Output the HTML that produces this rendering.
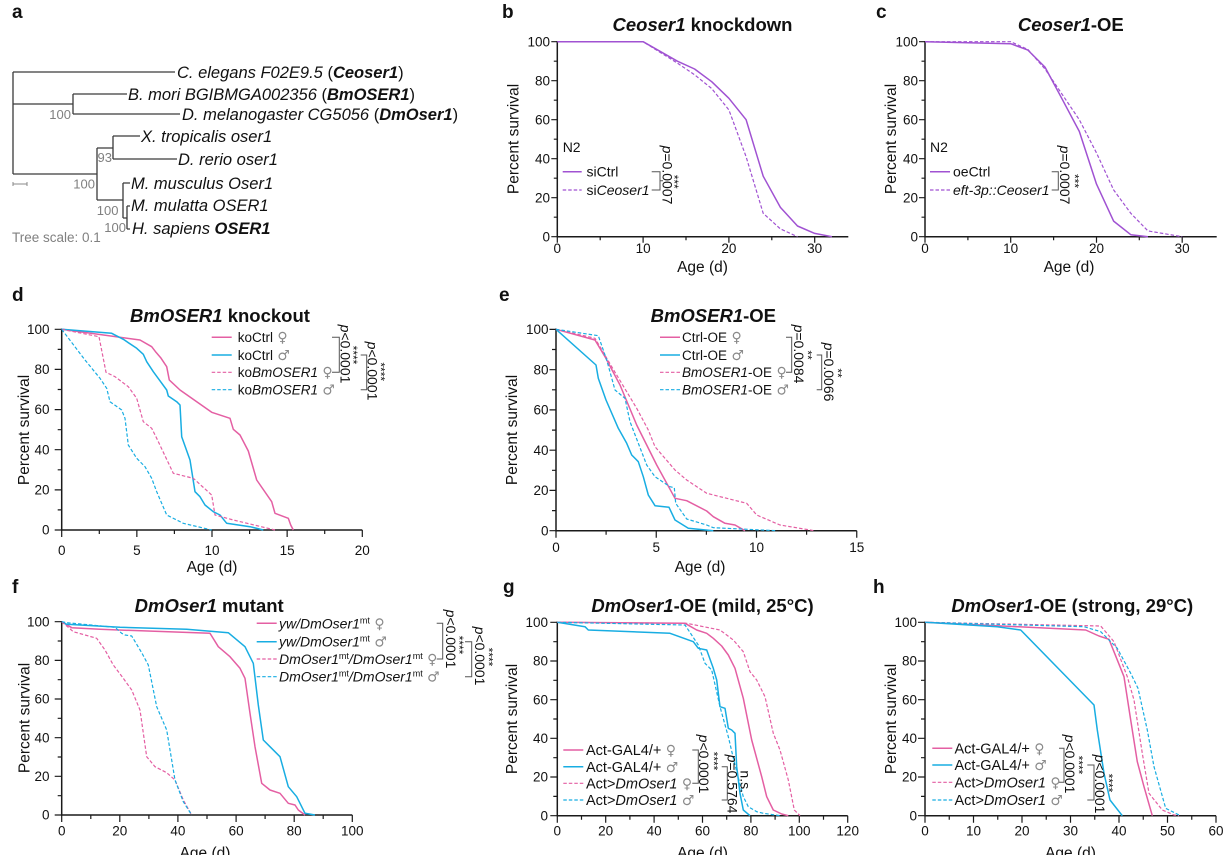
<!DOCTYPE html>
<html>
<head>
<meta charset="utf-8">
<style>
html,body{margin:0;padding:0;background:#fff;}
svg{display:block;}
text{font-family:"Liberation Sans",Arial,sans-serif;fill:#111;}
.ax{fill:none;stroke:#1a1a1a;stroke-width:1.5;}
.tk{fill:none;stroke:#1a1a1a;stroke-width:1.2;}
.tl{font-size:13.5px;}
.yl{text-anchor:end;}
.xl{text-anchor:middle;}
.at{font-size:15.5px;text-anchor:middle;}
.ti{font-size:18.5px;font-weight:bold;text-anchor:middle;}
.pl{font-size:19px;font-weight:bold;}
.lg{font-size:13.5px;}
.g{fill:#8a8a8a;font-size:14px;font-family:"DejaVu Sans",sans-serif;font-style:normal;}
.pk{fill:none;stroke:#e45fa3;stroke-width:1.5;stroke-linejoin:round;}
.bl{fill:none;stroke:#18ade2;stroke-width:1.5;stroke-linejoin:round;}
.pu{fill:none;stroke:#a052d2;stroke-width:1.5;stroke-linejoin:round;}
.ds{stroke-dasharray:3.5,2;stroke-width:1.2;}
.br{fill:none;stroke:#555;stroke-width:1;}
.pv{font-size:14px;text-anchor:middle;}
.st{font-size:12px;text-anchor:middle;}
.tr{fill:none;stroke:#3a3a3a;stroke-width:1.3;}
.bs{font-size:13px;fill:#808080;}
.sp{font-size:16.5px;font-style:italic;}
.gr{font-size:13.5px;fill:#808080;}
</style>
</head>
<body>
<svg width="1224" height="855" viewBox="0 0 1224 855" xmlns="http://www.w3.org/2000/svg">
<rect width="1224" height="855" fill="#fff"/>

<!-- ===== Panel a ===== -->
<text class="pl" x="12" y="18">a</text>
<path class="tr" d="M13 72V174M13 72H175M13 104H73M73 94V114M73 94H127M73 114H180M13 174H97M97 148V200M97 148H113M113 136V159M113 136H140M113 159H177M97 200H123M123 183V218M123 183H130M123 218H127M127 206V229M127 206H130M127 229H130"/>
<path d="M13 184H27M13 182V186M27 182V186" fill="none" stroke="#888" stroke-width="1"/>
<text class="sp" x="177" y="78">C. elegans F02E9.5 <tspan font-style="normal">(</tspan><tspan font-weight="bold">Ceoser1</tspan><tspan font-style="normal">)</tspan></text>
<text class="sp" x="128" y="100">B. mori BGIBMGA002356 <tspan font-style="normal">(</tspan><tspan font-weight="bold">BmOSER1</tspan><tspan font-style="normal">)</tspan></text>
<text class="sp" x="182" y="120">D. melanogaster CG5056 <tspan font-style="normal">(</tspan><tspan font-weight="bold">DmOser1</tspan><tspan font-style="normal">)</tspan></text>
<text class="sp" x="141" y="142">X. tropicalis oser1</text>
<text class="sp" x="178" y="165">D. rerio oser1</text>
<text class="sp" x="131" y="189">M. musculus Oser1</text>
<text class="sp" x="131" y="211">M. mulatta OSER1</text>
<text class="sp" x="132" y="234">H. sapiens <tspan font-weight="bold">OSER1</tspan></text>
<text class="bs" x="71" y="119" text-anchor="end">100</text>
<text class="bs" x="97.5" y="162">93</text>
<text class="bs" x="95" y="188.5" text-anchor="end">100</text>
<text class="bs" x="118.5" y="215" text-anchor="end">100</text>
<text class="bs" x="126" y="232" text-anchor="end">100</text>
<text class="gr" x="12" y="242">Tree scale: 0.1</text>

<!-- ===== Panel b ===== -->
<text class="pl" x="502" y="18">b</text>
<text class="ti" x="702.5" y="31"><tspan font-style="italic">Ceoser1</tspan> knockdown</text>
<path class="tk" d="M551.3 236.7H557.3M553.8 217.2H557.3M551.3 197.7H557.3M553.8 178.2H557.3M551.3 158.7H557.3M553.8 139.2H557.3M551.3 119.7H557.3M553.8 100.2H557.3M551.3 80.7H557.3M553.8 61.2H557.3M551.3 41.7H557.3M557.3 236.7V242.7M643.1 236.7V242.7M728.9 236.7V242.7M814.7 236.7V242.7M600.2 236.7V240.2M686 236.7V240.2M771.8 236.7V240.2"/>
<path class="ax" d="M557.3 41V236.7H848.3"/>
<g class="tl yl"><text x="550" y="241.3">0</text><text x="550" y="202.3">20</text><text x="550" y="163.3">40</text><text x="550" y="124.3">60</text><text x="550" y="85.3">80</text><text x="550" y="46.3">100</text></g>
<g class="tl xl"><text x="557.3" y="253">0</text><text x="643.1" y="253">10</text><text x="728.9" y="253">20</text><text x="814.7" y="253">30</text></g>
<text class="at" x="702.5" y="272">Age (d)</text>
<text class="at" transform="translate(518.5,139) rotate(-90)">Percent survival</text>
<polyline class="pu" points="557.3,41.7 643.1,41.7 677.4,61.2 694.6,69 711.7,81.7 728.9,98.3 746.1,119.7 763.2,176.2 780.4,207.4 797.5,226 814.7,233.4 831.9,236.7"/>
<polyline class="pu ds" points="557.3,41.7 643.1,41.7 677.4,63.1 694.6,74.8 711.7,88.5 728.9,109.9 746.1,156.7 763.2,213.3 780.4,228.9 797.5,236.7"/>
<text x="562.7" y="152" font-size="14">N2</text>
<line class="pu" x1="562.7" y1="171.7" x2="581.7" y2="171.7"/>
<line class="pu ds" x1="562.7" y1="190" x2="581.7" y2="190"/>
<text x="586.5" y="176.5" font-size="14">siCtrl</text>
<text x="586.5" y="195" font-size="14">si<tspan font-style="italic">Ceoser1</tspan></text>
<path class="br" d="M651.7 171.7H660V190H651.7M660 180.8H663"/>
<text class="pv" transform="translate(662.5,175) rotate(90)"><tspan font-style="italic">p</tspan>=0.0007</text>
<text class="st" transform="translate(670,181.7) rotate(90)">***</text>

<!-- ===== Panel c ===== -->
<text class="pl" x="876" y="18">c</text>
<text class="ti" x="1070.8" y="31"><tspan font-style="italic">Ceoser1</tspan>-OE</text>
<path class="tk" d="M919 236.7H925M921.5 217.2H925M919 197.7H925M921.5 178.2H925M919 158.7H925M921.5 139.2H925M919 119.7H925M921.5 100.2H925M919 80.7H925M921.5 61.2H925M919 41.7H925M925 236.7V242.7M1010.7 236.7V242.7M1096.5 236.7V242.7M1182.2 236.7V242.7M967.9 236.7V240.2M1053.6 236.7V240.2M1139.3 236.7V240.2"/>
<path class="ax" d="M925 41V236.7H1216.7"/>
<g class="tl yl"><text x="918" y="241.3">0</text><text x="918" y="202.3">20</text><text x="918" y="163.3">40</text><text x="918" y="124.3">60</text><text x="918" y="85.3">80</text><text x="918" y="46.3">100</text></g>
<g class="tl xl"><text x="925" y="253">0</text><text x="1010.7" y="253">10</text><text x="1096.5" y="253">20</text><text x="1182.2" y="253">30</text></g>
<text class="at" x="1069" y="272">Age (d)</text>
<text class="at" transform="translate(896,139) rotate(-90)">Percent survival</text>
<polyline class="pu" points="925,41.7 1010.7,43.7 1027.9,50.1 1045,67.1 1062.2,99.2 1079.3,131.4 1096.5,184.1 1113.6,221.1 1130.8,234.7 1147.9,236.7"/>
<polyline class="pu ds" points="925,41.7 1010.7,41.7 1027.9,49.5 1045,69 1062.2,94.4 1079.3,119.7 1096.5,152.9 1113.6,189.9 1130.8,213.3 1147.9,230.9 1165,233.8 1182.2,236.7"/>
<text x="930" y="152" font-size="14">N2</text>
<line class="pu" x1="930" y1="171.7" x2="950" y2="171.7"/>
<line class="pu ds" x1="930" y1="190" x2="950" y2="190"/>
<text x="953" y="176.5" font-size="14">oeCtrl</text>
<text x="953" y="195" font-size="14" font-style="italic">eft-3p::Ceoser1</text>
<path class="br" d="M1051.7 171.7H1058.3V190H1051.7"/>
<text class="pv" transform="translate(1060,175) rotate(90)"><tspan font-style="italic">p</tspan>=0.0007</text>
<text class="st" transform="translate(1070.5,181) rotate(90)">***</text>

<!-- ===== Panel d ===== -->
<text class="pl" x="12" y="301">d</text>
<text class="ti" x="220" y="322"><tspan font-style="italic">BmOSER1</tspan> knockout</text>
<path class="tk" d="M54.7 530H61.7M57.7 509.9H61.7M54.7 489.9H61.7M57.7 469.8H61.7M54.7 449.7H61.7M57.7 429.7H61.7M54.7 409.6H61.7M57.7 389.5H61.7M54.7 369.4H61.7M57.7 349.4H61.7M54.7 329.3H61.7M61.7 530V537M136.85 530V537M212 530V537M287.15 530V537M362.3 530V537M99.3 530V534M174.4 530V534M249.6 530V534M324.7 530V534"/>
<path class="ax" d="M61.7 328.5V530H362.3"/>
<g class="tl yl"><text x="49.5" y="534.6">0</text><text x="49.5" y="494.5">20</text><text x="49.5" y="454.3">40</text><text x="49.5" y="414.2">60</text><text x="49.5" y="374">80</text><text x="49.5" y="333.9">100</text></g>
<g class="tl xl"><text x="61.7" y="555">0</text><text x="136.85" y="555">5</text><text x="212" y="555">10</text><text x="287.15" y="555">15</text><text x="362.3" y="555">20</text></g>
<text class="at" x="212" y="572">Age (d)</text>
<text class="at" transform="translate(29,430) rotate(-90)">Percent survival</text>
<polyline class="pk" points="61.7,329.3 140,340 151.7,346.7 156,352.3 160.7,357.7 166.7,366.7 169.3,380 180,390 211.7,412.3 230,418.3 233.3,429.3 240,435 248.3,451 256.7,480 271.7,501.7 275,513.3 288.3,518.3 290.7,525 293.3,530"/>
<polyline class="bl" points="61.7,329.3 111.7,333.3 123.3,339.3 136.7,348.3 143.3,354.3 146.7,361.7 153.3,371.7 166.7,390 168.3,396 176.7,401.7 180,405 181.7,436.7 190,460 195,491.7 200,496.7 205,505 213.3,511.7 220,515 226.7,523.3 250,526.7 263.3,530"/>
<polyline class="pk ds" points="61.7,329.3 99,336.7 106,372.3 115,376.7 128.3,386.7 136.7,398.3 143.3,421.7 151.7,428.3 156.7,438.3 173.3,473.3 193.3,478.3 211.7,495 215,515 233.3,520 275,530"/>
<polyline class="bl ds" points="61.7,329.3 85,360 100,378.3 106.7,388.3 110,401.7 121.7,410 125,418.3 128.3,445 136.7,458.3 145,466.7 151.7,478.3 156.7,491.7 166.7,515 183.3,523.3 211.7,530"/>
<line class="pk" x1="211.7" y1="337.3" x2="231.7" y2="337.3"/>
<line class="bl" x1="211.7" y1="355" x2="231.7" y2="355"/>
<line class="pk ds" x1="211.7" y1="372.3" x2="231.7" y2="372.3"/>
<line class="bl ds" x1="211.7" y1="389.7" x2="231.7" y2="389.7"/>
<text class="lg" x="237.7" y="342">koCtrl<tspan class="g"> ♀</tspan></text>
<text class="lg" x="237.7" y="359.8">koCtrl<tspan class="g"> ♂</tspan></text>
<text class="lg" x="237.7" y="377.1">ko<tspan font-style="italic">BmOSER1</tspan><tspan class="g"> ♀</tspan></text>
<text class="lg" x="237.7" y="394.5">ko<tspan font-style="italic">BmOSER1</tspan><tspan class="g"> ♂</tspan></text>
<path class="br" d="M332 337.3H339.3V372.3H332M360.7 355H366.7V389.7H360.7"/>
<text class="pv" transform="translate(340.5,354) rotate(90)"><tspan font-style="italic">p</tspan>&lt;0.0001</text>
<text class="st" transform="translate(349,355) rotate(90)">****</text>
<text class="pv" transform="translate(367.5,371) rotate(90)"><tspan font-style="italic">p</tspan>&lt;0.0001</text>
<text class="st" transform="translate(376.3,371.7) rotate(90)">****</text>

<!-- ===== Panel e ===== -->
<text class="pl" x="499" y="301">e</text>
<text class="ti" x="713.3" y="322"><tspan font-style="italic">BmOSER1</tspan>-OE</text>
<path class="tk" d="M549.5 530.7H556M552 510.6H556M549.5 490.4H556M552 470.3H556M549.5 450.2H556M552 430.1H556M549.5 409.9H556M552 389.8H556M549.5 369.7H556M552 349.5H556M549.5 329.4H556M556 530.7V537.7M656.25 530.7V537.7M756.5 530.7V537.7M856.75 530.7V537.7M606.1 530.7V534.7M706.4 530.7V534.7M806.6 530.7V534.7"/>
<path class="ax" d="M556 328.5V530.7H856.75"/>
<g class="tl yl"><text x="548.5" y="535.3">0</text><text x="548.5" y="495">20</text><text x="548.5" y="454.8">40</text><text x="548.5" y="414.5">60</text><text x="548.5" y="374.3">80</text><text x="548.5" y="334">100</text></g>
<g class="tl xl"><text x="556" y="552">0</text><text x="656.25" y="552">5</text><text x="756.5" y="552">10</text><text x="856.75" y="552">15</text></g>
<text class="at" x="700" y="572">Age (d)</text>
<text class="at" transform="translate(517,430) rotate(-90)">Percent survival</text>
<polyline class="pk" points="556,329.3 595,340 605,356.7 620,385 636.7,425 656.7,465 675,498.3 686.7,500.7 706.7,511 713.3,516.7 725,523.3 735,525 745,530.7"/>
<polyline class="bl" points="556,329.3 596,365 598.3,378.3 606,400 618.3,428.3 626.7,443.3 631.7,455 638.3,461.7 643.3,476.7 648.3,495 655,505.7 669,507.3 675,520 688.3,528.3 713.3,530.7"/>
<polyline class="pk ds" points="556,329.3 595,338.3 611.7,366.7 626.7,391.7 636.7,408.3 648.3,430 655,446.7 675,470 686.7,480 706.7,493.3 746.7,503.3 756.7,515 780,525 814.3,530.7"/>
<polyline class="bl ds" points="556,329.3 598.3,335.7 606.7,360 615,390 625,398.3 630,421.7 646.7,465 655,476.7 670,486.7 674.3,487.7 675.7,503.3 686.7,519 706.7,525 713.3,527.7 776.7,530.7"/>
<line class="pk" x1="660" y1="337.3" x2="680" y2="337.3"/>
<line class="bl" x1="660" y1="355" x2="680" y2="355"/>
<line class="pk ds" x1="660" y1="372.3" x2="680" y2="372.3"/>
<line class="bl ds" x1="660" y1="389.7" x2="680" y2="389.7"/>
<text class="lg" x="682" y="342">Ctrl-OE<tspan class="g"> ♀</tspan></text>
<text class="lg" x="682" y="359.8">Ctrl-OE<tspan class="g"> ♂</tspan></text>
<text class="lg" x="682" y="377.1"><tspan font-style="italic">BmOSER1</tspan>-OE<tspan class="g"> ♀</tspan></text>
<text class="lg" x="682" y="394.5"><tspan font-style="italic">BmOSER1</tspan>-OE<tspan class="g"> ♂</tspan></text>
<path class="br" d="M786 337.3H791.7V372.3H786M816.7 355H821.7V389.7H816.7"/>
<text class="pv" transform="translate(794,354) rotate(90)"><tspan font-style="italic">p</tspan>=0.0084</text>
<text class="st" transform="translate(803.5,355) rotate(90)">**</text>
<text class="pv" transform="translate(824,372) rotate(90)"><tspan font-style="italic">p</tspan>=0.0066</text>
<text class="st" transform="translate(833.5,373) rotate(90)">**</text>

<!-- ===== Panel f ===== -->
<text class="pl" x="12" y="593">f</text>
<text class="ti" x="209.2" y="612"><tspan font-style="italic">DmOser1</tspan> mutant</text>
<path class="tk" d="M54.7 815H61.7M57.7 795.7H61.7M54.7 776.3H61.7M57.7 757H61.7M54.7 737.7H61.7M57.7 718.3H61.7M54.7 699H61.7M57.7 679.7H61.7M54.7 660.4H61.7M57.7 641H61.7M54.7 621.7H61.7M61.7 815V822M119.8 815V822M177.9 815V822M236.1 815V822M294.2 815V822M352.3 815V822M90.8 815V819M148.9 815V819M207 815V819M265.1 815V819M323.2 815V819"/>
<path class="ax" d="M61.7 621V815H352.3"/>
<g class="tl yl"><text x="49.5" y="819.6">0</text><text x="49.5" y="780.9">20</text><text x="49.5" y="742.3">40</text><text x="49.5" y="703.6">60</text><text x="49.5" y="665">80</text><text x="49.5" y="626.3">100</text></g>
<g class="tl xl"><text x="61.7" y="835.5">0</text><text x="119.8" y="835.5">20</text><text x="177.9" y="835.5">40</text><text x="236.1" y="835.5">60</text><text x="294.2" y="835.5">80</text><text x="352.3" y="835.5">100</text></g>
<text class="at" x="205" y="858">Age (d)</text>
<text class="at" transform="translate(29.5,718) rotate(-90)">Percent survival</text>
<polyline class="pk" points="61.7,621.7 71.7,627.7 100,629.3 210,633.3 218.3,646.7 230,656.7 240,668.3 245,678.3 250,713.3 255,746.7 261.7,783.3 270,790 280,793.3 288.3,803.3 295,805 298.3,810 305,815"/>
<polyline class="bl" points="61.7,621.7 66.7,624.3 120,627.3 186.7,629.3 228.3,632.7 245,646.7 253.3,663.3 258.3,705 263.3,740 270,746.7 280,756.7 288.3,786.7 296.7,796.7 305,813.3 315,815"/>
<polyline class="pk ds" points="61.7,621.7 73.3,631.7 96.7,638.3 105,650 113.3,665 123.3,678.3 131.7,690 140,710 146.7,756.7 155,766.7 166.7,772.7 175,780 183.3,800 191.7,815"/>
<polyline class="bl ds" points="61.7,621.7 66.7,622.7 115,627.3 121.7,633.3 125,635 131.7,636 141.7,652.7 148.3,665 156.7,706.7 166.7,730 175,780 183.3,801.7 191.7,815"/>
<line class="pk" x1="256.7" y1="623.3" x2="276.7" y2="623.3"/>
<line class="bl" x1="256.7" y1="641.7" x2="276.7" y2="641.7"/>
<line class="pk ds" x1="256.7" y1="659" x2="276.7" y2="659"/>
<line class="bl ds" x1="256.7" y1="676.7" x2="276.7" y2="676.7"/>
<text x="279" y="628.3" font-size="14" font-style="italic">yw/DmOser1<tspan font-size="9" dy="-5" font-style="normal">mt</tspan><tspan class="g" dy="5"> ♀</tspan></text>
<text x="279" y="646.7" font-size="14" font-style="italic">yw/DmOser1<tspan font-size="9" dy="-5" font-style="normal">mt</tspan><tspan class="g" dy="5"> ♂</tspan></text>
<text x="279" y="664" font-size="14" font-style="italic">DmOser1<tspan font-size="9" dy="-5" font-style="normal">mt</tspan><tspan dy="5">/DmOser1</tspan><tspan font-size="9" dy="-5" font-style="normal">mt</tspan><tspan class="g" dy="5"> ♀</tspan></text>
<text x="279" y="681.7" font-size="14" font-style="italic">DmOser1<tspan font-size="9" dy="-5" font-style="normal">mt</tspan><tspan dy="5">/DmOser1</tspan><tspan font-size="9" dy="-5" font-style="normal">mt</tspan><tspan class="g" dy="5"> ♂</tspan></text>
<path class="br" d="M436.7 623.3H442.7V659H436.7M465 641.7H471.7V676.7H465"/>
<text class="pv" transform="translate(446,639) rotate(90)"><tspan font-style="italic">p</tspan>&lt;0.0001</text>
<text class="st" transform="translate(455,645) rotate(90)">****</text>
<text class="pv" transform="translate(475,656) rotate(90)"><tspan font-style="italic">p</tspan>&lt;0.0001</text>
<text class="st" transform="translate(484.5,657) rotate(90)">****</text>

<!-- ===== Panel g ===== -->
<text class="pl" x="503" y="593">g</text>
<text class="ti" x="702.5" y="612"><tspan font-style="italic">DmOser1</tspan>-OE (mild, 25°C)</text>
<path class="tk" d="M550.3 815.7H557.3M553.3 796.4H557.3M550.3 777H557.3M553.3 757.7H557.3M550.3 738.3H557.3M553.3 719H557.3M550.3 699.7H557.3M553.3 680.3H557.3M550.3 661H557.3M553.3 641.7H557.3M550.3 622.3H557.3M557.3 815.7V822.7M605.7 815.7V822.7M654.1 815.7V822.7M702.5 815.7V822.7M750.9 815.7V822.7M799.3 815.7V822.7M847.7 815.7V822.7M581.5 815.7V819.7M629.9 815.7V819.7M678.3 815.7V819.7M726.7 815.7V819.7M775.1 815.7V819.7M823.5 815.7V819.7"/>
<path class="ax" d="M557.3 621.5V815.7H847.7"/>
<g class="tl yl"><text x="548" y="820.3">0</text><text x="548" y="781.6">20</text><text x="548" y="742.9">40</text><text x="548" y="704.3">60</text><text x="548" y="665.6">80</text><text x="548" y="626.9">100</text></g>
<g class="tl xl"><text x="557.3" y="835.5">0</text><text x="605.7" y="835.5">20</text><text x="654.1" y="835.5">40</text><text x="702.5" y="835.5">60</text><text x="750.9" y="835.5">80</text><text x="799.3" y="835.5">100</text><text x="847.7" y="835.5">120</text></g>
<text class="at" x="702.5" y="858">Age (d)</text>
<text class="at" transform="translate(517,719) rotate(-90)">Percent survival</text>
<polyline class="pk" points="557.3,622.3 685,623.3 696.7,630 706.7,633.3 713.3,638.3 721.7,646 728.3,655 735,668.3 743.3,698.3 751.7,740 761.7,776.7 766.7,796.7 773.3,810 781.7,814 788.3,815.7"/>
<polyline class="bl" points="557.3,622.3 585,626.7 588.3,630 670,633.3 693.3,641.7 698.3,648.3 706.7,650 713.3,668.3 716.7,680 720,706.7 725,708.3 728.3,728.3 731.7,730 735,733.3 736.7,766.7 740,793.3 743.3,810 750,815.7"/>
<polyline class="pk ds" points="557.3,622.3 686.7,623.3 720,630 733.3,640 743.3,651.7 750,671.7 756.7,680 765,696.7 773.3,733.3 780,750 788.3,780 794.3,810 800,815.7"/>
<polyline class="bl ds" points="557.3,622.3 685,625 698.3,645 705,663.3 711.7,670 720,706.7 728.3,736.7 735,765 743.3,796.7 748.3,806.7 756.7,811.7 763.3,813.3 780,815.7"/>
<line class="pk" x1="563.3" y1="750" x2="583.3" y2="750"/>
<line class="bl" x1="563.3" y1="766.7" x2="583.3" y2="766.7"/>
<line class="pk ds" x1="563.3" y1="783.3" x2="583.3" y2="783.3"/>
<line class="bl ds" x1="563.3" y1="800" x2="583.3" y2="800"/>
<text x="586" y="755.2" font-size="14.5">Act-GAL4/+<tspan class="g"> ♀</tspan></text>
<text x="586" y="771.9" font-size="14.5">Act-GAL4/+<tspan class="g"> ♂</tspan></text>
<text x="586" y="788.5" font-size="14.5">Act&gt;<tspan font-style="italic">DmOser1</tspan><tspan class="g"> ♀</tspan></text>
<text x="586" y="805.2" font-size="14.5">Act&gt;<tspan font-style="italic">DmOser1</tspan><tspan class="g"> ♂</tspan></text>
<path class="br" d="M692.3 750H698.3V783.3H692.3M721.7 766.7H727.3V800H721.7"/>
<text class="pv" transform="translate(699,764) rotate(90)"><tspan font-style="italic">p</tspan>&lt;0.0001</text>
<text class="st" transform="translate(709.7,761) rotate(90)">****</text>
<text class="pv" transform="translate(727.5,784) rotate(90)"><tspan font-style="italic">p</tspan>=0.5764</text>
<text class="pv" transform="translate(740.6,781.7) rotate(90)">n.s.</text>

<!-- ===== Panel h ===== -->
<text class="pl" x="873" y="593">h</text>
<text class="ti" x="1072.3" y="612"><tspan font-style="italic">DmOser1</tspan>-OE (strong, 29°C)</text>
<path class="tk" d="M918 815.7H925M921 796.4H925M918 777H925M921 757.7H925M918 738.3H925M921 719H925M918 699.7H925M921 680.3H925M918 661H925M921 641.7H925M918 622.3H925M925 815.7V822.7M973.5 815.7V822.7M1022 815.7V822.7M1070.5 815.7V822.7M1119 815.7V822.7M1167.5 815.7V822.7M1216 815.7V822.7M949.25 815.7V819.7M997.75 815.7V819.7M1046.25 815.7V819.7M1094.75 815.7V819.7M1143.25 815.7V819.7M1191.75 815.7V819.7"/>
<path class="ax" d="M925 621.5V815.7H1216"/>
<g class="tl yl"><text x="917" y="820.3">0</text><text x="917" y="781.6">20</text><text x="917" y="742.9">40</text><text x="917" y="704.3">60</text><text x="917" y="665.6">80</text><text x="917" y="626.9">100</text></g>
<g class="tl xl"><text x="925" y="835.5">0</text><text x="973.5" y="835.5">10</text><text x="1022" y="835.5">20</text><text x="1070.5" y="835.5">30</text><text x="1119" y="835.5">40</text><text x="1167.5" y="835.5">50</text><text x="1216" y="835.5">60</text></g>
<text class="at" x="1070.5" y="858">Age (d)</text>
<text class="at" transform="translate(896,719) rotate(-90)">Percent survival</text>
<polyline class="pk" points="925,622.3 1085.7,630 1099,636 1109,639.3 1124,676.7 1130.7,720 1137.3,761.7 1144,786.7 1152.3,815.7"/>
<polyline class="bl" points="925,622.3 997.3,626.7 1020.7,630 1094,705 1097.3,730 1104,773.3 1110,800 1122.3,815.7"/>
<polyline class="pk ds" points="925,622.3 1100.7,626 1114,641.7 1127.3,676.7 1134,700 1142.3,753.3 1149,793.3 1162.3,810 1174,815 1179,815.7"/>
<polyline class="bl ds" points="925,622.3 1084,626.7 1100.7,631.7 1117.3,648.3 1130.7,673.3 1138,688.3 1147.3,730 1154,766.7 1165.7,808.3 1179,815 1180.7,815.7"/>
<line class="pk" x1="932.3" y1="748.3" x2="952.3" y2="748.3"/>
<line class="bl" x1="932.3" y1="765" x2="952.3" y2="765"/>
<line class="pk ds" x1="932.3" y1="782.3" x2="952.3" y2="782.3"/>
<line class="bl ds" x1="932.3" y1="800" x2="952.3" y2="800"/>
<text x="954.5" y="753.5" font-size="14.5">Act-GAL4/+<tspan class="g"> ♀</tspan></text>
<text x="954.5" y="770.2" font-size="14.5">Act-GAL4/+<tspan class="g"> ♂</tspan></text>
<text x="954.5" y="787.5" font-size="14.5">Act&gt;<tspan font-style="italic">DmOser1</tspan><tspan class="g"> ♀</tspan></text>
<text x="954.5" y="805.2" font-size="14.5">Act&gt;<tspan font-style="italic">DmOser1</tspan><tspan class="g"> ♂</tspan></text>
<path class="br" d="M1059 748.3H1064V782.3H1059M1087.3 765H1094V800H1087.3"/>
<text class="pv" transform="translate(1065,764) rotate(90)"><tspan font-style="italic">p</tspan>&lt;0.0001</text>
<text class="st" transform="translate(1074.5,765) rotate(90)">****</text>
<text class="pv" transform="translate(1095,784) rotate(90)"><tspan font-style="italic">p</tspan>&lt;0.0001</text>
<text class="st" transform="translate(1104.5,783) rotate(90)">****</text>
</svg>
</body>
</html>
